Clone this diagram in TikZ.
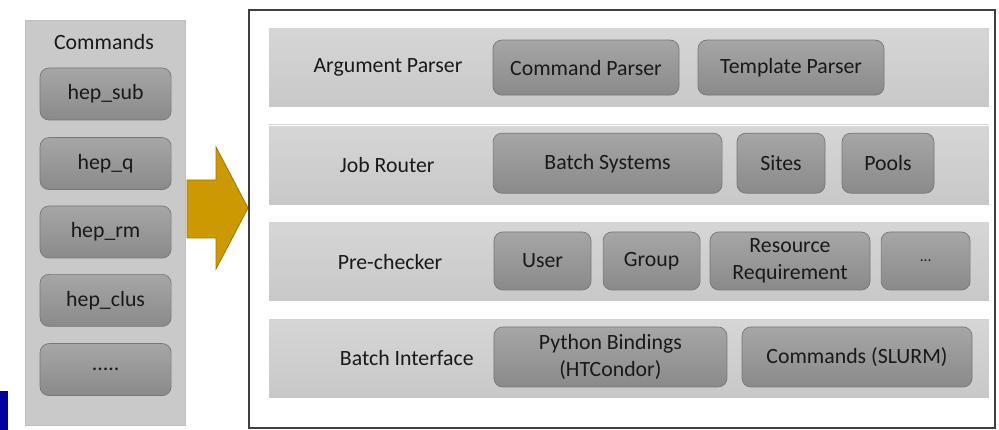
\documentclass[tikz,border=0pt]{standalone}
\usepackage{fontspec}
\setmainfont{Carlito}
\usepackage{xcolor}
\usepackage{tikz}
\usetikzlibrary{positioning}
\definecolor{panelgray}{HTML}{C9C9C9}
\definecolor{bandtop}{HTML}{D6D6D6}
\definecolor{bandbot}{HTML}{C8C8C8}
\definecolor{celltop}{HTML}{A6A6A6}
\definecolor{cellbot}{HTML}{8A8A8A}
\definecolor{celledge}{HTML}{777777}
\definecolor{arrowgold}{HTML}{CC9900}
\definecolor{arrowedge}{HTML}{A07800}
\definecolor{markblue}{HTML}{0000A0}
\tikzset{
  panel/.style={draw=black!25,fill=panelgray,line width=0.4pt},
  frame/.style={draw=black!75,line width=0.9pt,fill=white},
  band/.style={draw=white,line width=0.3pt,top color=bandtop,bottom color=bandbot,minimum width=18.025cm,minimum height=2.0cm,inner sep=0pt},
  cell/.style={draw=celledge,line width=0.5pt,top color=celltop,bottom color=cellbot,rounded corners=2.2mm,minimum height=1.45cm,align=center,inner sep=2pt},
  cmdcell/.style={cell,minimum width=3.275cm,minimum height=1.3cm},
  lbl/.style={align=center,inner sep=1pt},
  blockarrow/.style={draw=arrowedge,fill=arrowgold,line width=0.6pt,line join=miter}
}

\begin{document}
\begin{tikzpicture}[x=1cm,y=1cm,every node/.style={font=\fontsize{15.5}{17}\selectfont,text=black!90}]
  \useasboundingbox (0,0) rectangle (24.975,10.75);
  % left column of commands
  \draw[panel] (0.625,0.125) rectangle (4.625,10.25);
  \node[lbl] (cmdtitle) at (2.6,9.7) {Commands};
  \node[cmdcell] (hepsub)  at (2.64,8.4)  {hep\_sub};
  \node[cmdcell] (hepq)    at (2.64,6.66) {hep\_q};
  \node[cmdcell] (heprm)   at (2.64,4.95) {hep\_rm};
  \node[cmdcell] (hepclus) at (2.64,3.24) {hep\_clus};
  \node[cmdcell] (hepmore) at (2.64,1.51) {.....};
  \fill[markblue] (0,0) rectangle (0.2,0.975);
  % big arrow
  \draw[blockarrow] (4.675,6.25)--(5.4,6.25)--(5.4,7.075)--(6.2,5.55)--(5.4,4.025)--(5.4,4.8)--(4.675,4.8)--cycle;
  % framed layers
  \draw[frame] (6.225,0.05) rectangle (24.875,10.5);
  \node[band] (argband) at (15.7125,9.06) {};
  \node[band] (jobband) at (15.7125,6.63) {};
  \node[band] (preband) at (15.7125,4.21) {};
  \node[band] (batband) at (15.7125,1.79) {};
  \node[lbl] (arglbl) at (9.7,9.06)  {Argument Parser};
  \node[lbl] (joblbl) at (9.68,6.63) {Job Router};
  \node[lbl] (prelbl) at (9.75,4.21) {Pre-checker};
  \node[lbl] (batlbl) at (10.17,1.79) {Batch Interface};
  \node[cell,minimum width=4.65cm,minimum height=1.375cm] (cmdparse) at (14.65,9.06)  {Command Parser};
  \node[cell,minimum width=4.65cm,minimum height=1.375cm] (tplparse) at (19.775,9.06) {Template Parser};
  \node[cell,minimum width=5.725cm,minimum height=1.5cm] (batchsys) at (15.19,6.67) {Batch Systems};
  \node[cell,minimum width=2.2cm,minimum height=1.5cm]   (sites)    at (19.525,6.67) {Sites};
  \node[cell,minimum width=2.3cm,minimum height=1.5cm]   (pools)    at (22.2,6.67)  {Pools};
  \node[cell,minimum width=2.425cm] (user)  at (13.5625,4.225) {User};
  \node[cell,minimum width=2.425cm] (group) at (16.29,4.225)   {Group};
  \node[cell,minimum width=4.0cm]   (resreq) at (19.75,4.225)  {Resource\\[2pt]Requirement};
  \node[cell,minimum width=2.225cm] (premore) at (23.14,4.225) {\fontsize{11}{12}\selectfont ...};
  \node[cell,minimum width=5.825cm,minimum height=1.5cm] (pybind) at (15.26,1.825)  {Python Bindings\\[2pt](HTCondor)};
  \node[cell,minimum width=5.75cm,minimum height=1.5cm]  (slurm)  at (21.425,1.825) {Commands (SLURM)};
\end{tikzpicture}
\end{document}
